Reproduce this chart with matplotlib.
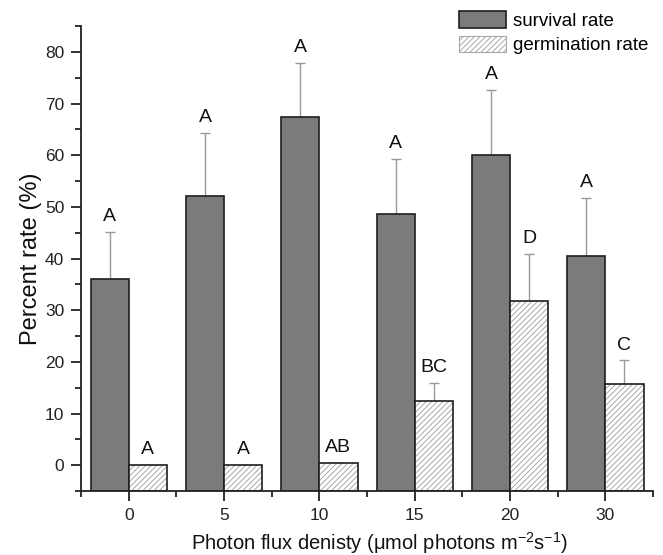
import numpy as np
import matplotlib
matplotlib.use('Agg')
import matplotlib.pyplot as plt
from matplotlib.ticker import MultipleLocator

plt.rcParams['font.family'] = ['Liberation Sans', 'DejaVu Sans']
plt.rcParams['hatch.linewidth'] = 0.7

flux = ['0', '5', '10', '15', '20', '30']
survival = [36.0, 52.2, 67.4, 48.7, 60.1, 40.4]
survival_err = [9.2, 12.2, 10.5, 10.6, 12.6, 11.4]
germination = [0.0, 0.0, 0.5, 12.5, 31.7, 15.7]
germination_err = [0.0, 0.0, 0.0, 3.5, 9.2, 4.6]
survival_letters = ['A', 'A', 'A', 'A', 'A', 'A']
germination_letters = ['A', 'A', 'AB', 'BC', 'D', 'C']

base = -5
fig = plt.figure(figsize=(6.63, 5.55), dpi=100)
ax = fig.add_axes([0.1222, 0.1153, 0.8628, 0.8377])

x = np.arange(len(flux))
w = 0.4
surv = np.array(survival)
germ = np.array(germination)
b1 = ax.bar(x, surv - base, bottom=base, width=-w, align='edge', color='#7b7b7b',
            edgecolor='#1e1e1e', linewidth=1.2, label='survival rate', zorder=2)
# hatch layer in light grey, outline drawn on top in dark
ax.bar(x, germ - base, bottom=base, width=w, align='edge', color='white',
       hatch='//////', edgecolor='#a8a8a8', linewidth=0, zorder=2)
ax.bar(x, germ - base, bottom=base, width=w, align='edge', fill=False,
       edgecolor='#1e1e1e', linewidth=1.2, zorder=3)
b2 = plt.Rectangle((0, 0), 1, 1, facecolor='white', hatch='//////',
                   edgecolor='#a8a8a8', linewidth=0.8, label='germination rate')

ax.errorbar(x - w / 2, surv, yerr=[np.zeros(len(x)), survival_err], fmt='none',
            ecolor='#999999', elinewidth=1.0, capsize=3.5, capthick=1.0, zorder=1)
ax.errorbar(x + w / 2, germ, yerr=[np.zeros(len(x)), germination_err], fmt='none',
            ecolor='#999999', elinewidth=1.0, capsize=3.5, capthick=1.0, zorder=1)

for i in range(len(x)):
    ax.text(x[i] - w / 2, survival[i] + survival_err[i] + 1.3, survival_letters[i],
            ha='center', va='bottom', fontsize=14, color='#111111')
    ax.text(x[i] + w / 2, germination[i] + germination_err[i] + 1.3, germination_letters[i],
            ha='center', va='bottom', fontsize=14, color='#111111')

ax.set_xlim(-0.5, 5.5)
ax.set_ylim(base, 85)
ax.set_xticks(x)
ax.set_xticklabels(flux)
ax.set_xticks(np.arange(-0.5, 6.0, 1.0), minor=True)
ax.set_yticks(np.arange(0, 81, 10))
ax.yaxis.set_minor_locator(MultipleLocator(5))

for s in ['top', 'right']:
    ax.spines[s].set_visible(False)
for s in ['left', 'bottom']:
    ax.spines[s].set_linewidth(1.3)
    ax.spines[s].set_color('#222222')
    ax.spines[s].set_zorder(4)

ax.tick_params(axis='both', which='major', direction='out', length=7, width=1.3,
               labelsize=12.5, colors='#222222', pad=5)
ax.tick_params(axis='both', which='minor', direction='out', length=4, width=1.3,
               colors='#222222')

ax.set_xlabel('Photon flux denisty (μmol photons m$^{\\mathregular{-2}}$s$^{\\mathregular{-1}}$)',
              fontsize=14.5, color='#111111')
ax.xaxis.set_label_coords(0.522, -0.085)
ax.set_ylabel('Percent rate (%)', fontsize=17, color='#111111', labelpad=2)

ax.legend(handles=[b1, b2], loc='upper right', bbox_to_anchor=(0.995, 1.0),
          bbox_transform=fig.transFigure, frameon=False, fontsize=13.5,
          handlelength=2.5, handleheight=1.0, handletextpad=0.4,
          labelspacing=0.3, borderaxespad=0.2)

fig.savefig('out.png', dpi=100)
